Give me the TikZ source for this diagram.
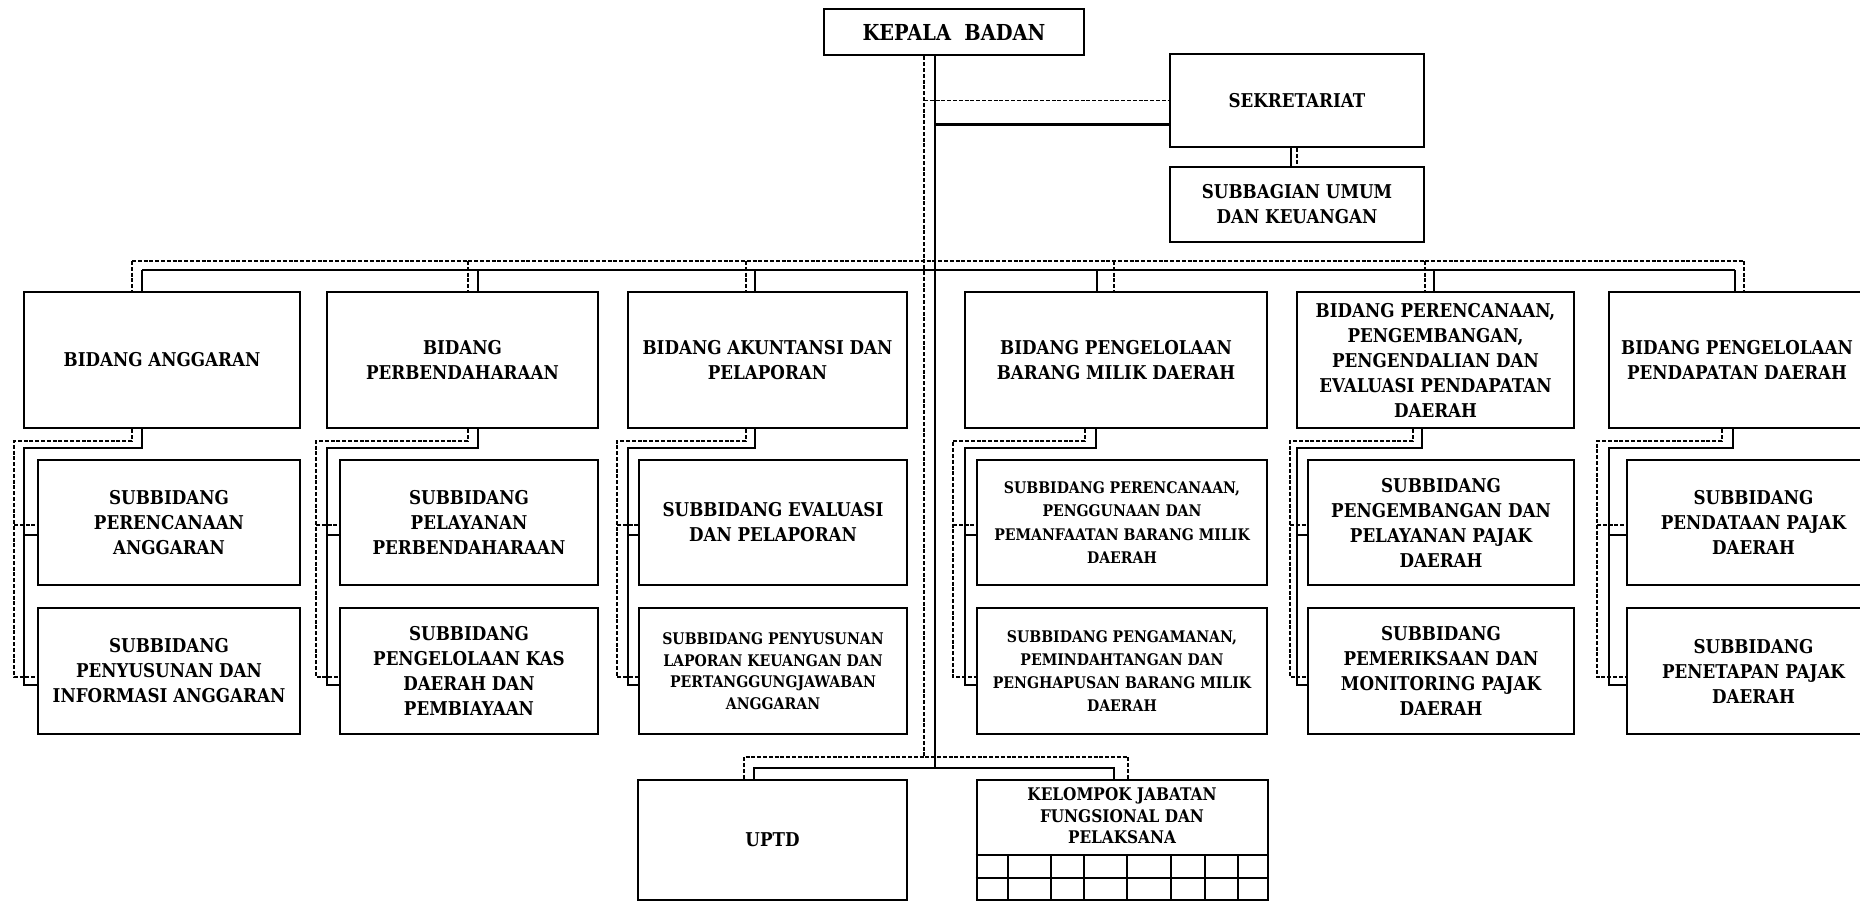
\documentclass[tikz,border=0pt]{standalone}
\usepackage{fontspec}
\setmainfont{DejaVu Serif}[BoldFeatures={FakeStretch=0.88}]
\tikzset{
  wh/.style 2 args={minimum width=#1*0.5pt, minimum height=#2*0.5pt},
  bx/.style={draw, line width=1.4pt, inner sep=1pt, align=center,
             font=\fontsize{9.5}{12.5}\selectfont\bfseries},
  small/.style={font=\fontsize{8}{10.8}\selectfont\bfseries},
  sl/.style={line width=1.1pt},
  dl/.style={line width=0.75pt, dash pattern=on 2pt off 0.9pt},
  tl/.style={line width=0.9pt},
}
\begin{document}
\begin{tikzpicture}[x=0.5pt,y=-0.5pt]
\fill[white] (0,0) rectangle (1860,902);
\useasboundingbox (0,0) rectangle (1860,902);

% head of the office and secretariat
\node[bx, wh={260}{46}, font=\fontsize{11}{13}\selectfont\bfseries] (kb) at (954,32) {KEPALA~~BADAN};
\node[bx, wh={254}{93}] (sek) at (1297,100.5) {SEKRETARIAT};
\node[bx, wh={254}{75}] (sub) at (1297,204.5) {SUBBAGIAN UMUM\\DAN KEUANGAN};

% divisions (bidang)
\node[bx, wh={276}{136}] (b1) at (162,360) {BIDANG ANGGARAN};
\node[bx, wh={271}{136}] (b2) at (462.5,360) {BIDANG\\PERBENDAHARAAN};
\node[bx, wh={279}{136}] (b3) at (767.5,360) {BIDANG AKUNTANSI DAN\\PELAPORAN};
\node[bx, wh={302}{136}] (b4) at (1116,360) {BIDANG PENGELOLAAN\\BARANG MILIK DAERAH};
\node[bx, wh={277}{136}] (b5) at (1435.5,360) {BIDANG PERENCANAAN,\\PENGEMBANGAN,\\PENGENDALIAN DAN\\EVALUASI PENDAPATAN\\DAERAH};
\node[bx, wh={256}{136}] (b6) at (1737,360) {BIDANG PENGELOLAAN\\PENDAPATAN DAERAH};

% sub-divisions (subbidang)
\node[bx, wh={262}{125}] (s1-1) at (169,522.5) {SUBBIDANG\\PERENCANAAN\\ANGGARAN};
\node[bx, wh={262}{126}] (s1-2) at (169,671) {SUBBIDANG\\PENYUSUNAN DAN\\INFORMASI ANGGARAN};
\node[bx, wh={258}{125}] (s2-1) at (469,522.5) {SUBBIDANG\\PELAYANAN\\PERBENDAHARAAN};
\node[bx, wh={258}{126}] (s2-2) at (469,671) {SUBBIDANG\\PENGELOLAAN KAS\\DAERAH DAN\\PEMBIAYAAN};
\node[bx, wh={268}{125}] (s3-1) at (773,522.5) {SUBBIDANG EVALUASI\\DAN PELAPORAN};
\node[bx, wh={268}{126}, small] (s3-2) at (773,671) {SUBBIDANG PENYUSUNAN\\LAPORAN KEUANGAN DAN\\PERTANGGUNGJAWABAN\\ANGGARAN};
\node[bx, wh={290}{125}, font=\fontsize{8}{11.6}\selectfont\bfseries] (s4-1) at (1122,522.5) {SUBBIDANG PERENCANAAN,\\PENGGUNAAN DAN\\PEMANFAATAN BARANG MILIK\\DAERAH};
\node[bx, wh={290}{126}, font=\fontsize{8}{11.6}\selectfont\bfseries] (s4-2) at (1122,671) {SUBBIDANG PENGAMANAN,\\PEMINDAHTANGAN DAN\\PENGHAPUSAN BARANG MILIK\\DAERAH};
\node[bx, wh={266}{125}] (s5-1) at (1441,522.5) {SUBBIDANG\\PENGEMBANGAN DAN\\PELAYANAN PAJAK\\DAERAH};
\node[bx, wh={266}{126}] (s5-2) at (1441,671) {SUBBIDANG\\PEMERIKSAAN DAN\\MONITORING PAJAK\\DAERAH};
\node[bx, wh={253}{125}] (s6-1) at (1753.5,522.5) {SUBBIDANG\\PENDATAAN PAJAK\\DAERAH};
\node[bx, wh={253}{126}] (s6-2) at (1753.5,671) {SUBBIDANG\\PENETAPAN PAJAK\\DAERAH};

% technical unit and functional group
\node[bx, wh={269}{120}] (uptd) at (772.5,840) {UPTD};
\node[bx, wh={291}{120}] (kjf) at (1122.5,840) {};
\node[font=\fontsize{8.7}{10.8}\selectfont\bfseries, align=center, inner sep=0pt] (kjft) at (1122,816)
  {KELOMPOK JABATAN\\FUNGSIONAL DAN\\PELAKSANA};
\foreach \yy in {855,878} \draw[tl] (kjf.west |- 0,\yy) -- (kjf.east |- 0,\yy);
\foreach \xx in {1008,1051,1084,1127,1171,1205,1238} \draw[tl] (\xx,855) -- (\xx,0 |- kjf.south);

% main trunk: dashed coordination line and solid command line
\coordinate (trD) at (924,757);
\coordinate (trS) at (935,768);
\draw[dl] (kb.south -| trD) -- (trD);
\draw[sl] (kb.south -| trS) -- (trS);

% to the secretariat
\draw[dl] (sek.west -| trD) -- (sek.west);
\coordinate (sekS) at ([yshift=-12pt]sek.west);
\draw[sl] (sekS -| trS) -- (sekS);
\draw[dl] (sek.south) -- (sub.north);
\coordinate (ssS) at ([xshift=-3pt]sek.south);
\draw[sl] (ssS) -- (ssS |- sub.north);

% upper bus to the divisions
\coordinate (busD0) at (132,261);
\coordinate (busD1) at (1744,261);
\coordinate (busS0) at (142,270);
\coordinate (busS1) at (1735,270);
\draw[dl] (busD0) -- (busD1);
\draw[sl] (busS0) -- (busS1);

\foreach \c/\tdx/\tsx/\bdx/\bsx/\vdx/\vsx in
  {1/132/142/132/142/14/24,
   2/468/478/468/478/316/327,
   3/746/755/746/755/617/628,
   4/1114/1097/1085/1096/953/965,
   5/1425/1434/1413/1422/1290/1297,
   6/1744/1735/1722/1733/1597/1609}{
  \coordinate (td\c) at (\tdx,261);
  \coordinate (ts\c) at (\tsx,270);
  \draw[dl] (td\c) -- (td\c |- b\c.north);
  \draw[sl] (ts\c) -- (ts\c |- b\c.north);
  \coordinate (bd\c) at (\bdx,441);
  \coordinate (bs\c) at (\bsx,448);
  \coordinate (vd\c) at (\vdx,441);
  \coordinate (vs\c) at (\vsx,448);
  \coordinate (ad\c) at ([yshift=-1.25pt]s\c-1.west);
  \coordinate (as\c) at ([yshift=-6.25pt]s\c-1.west);
  \coordinate (cd\c) at ([yshift=-3pt]s\c-2.west);
  \coordinate (cs\c) at ([yshift=-7pt]s\c-2.west);
  \draw[sl] (b\c.south -| bs\c) -- (bs\c) -- (vs\c) -- (vs\c |- cs\c) -- (cs\c);
  \draw[sl] (vs\c |- as\c) -- (as\c);
  \draw[dl] (b\c.south -| bd\c) -- (bd\c) -- (vd\c) -- (vd\c |- cd\c) -- (cd\c);
  \draw[dl] (vd\c |- ad\c) -- (ad\c);
}

% lower bus to UPTD and the functional group
\coordinate (lbD0) at (744,757);
\coordinate (lbD1) at (1128,757);
\coordinate (lbS0) at (754,768);
\coordinate (lbS1) at (1114,768);
\draw[dl] (uptd.north -| lbD0) -- (lbD0) -- (lbD1) -- (lbD1 |- kjf.north);
\draw[sl] (uptd.north -| lbS0) -- (lbS0) -- (lbS1) -- (lbS1 |- kjf.north);
\end{tikzpicture}
\end{document}
